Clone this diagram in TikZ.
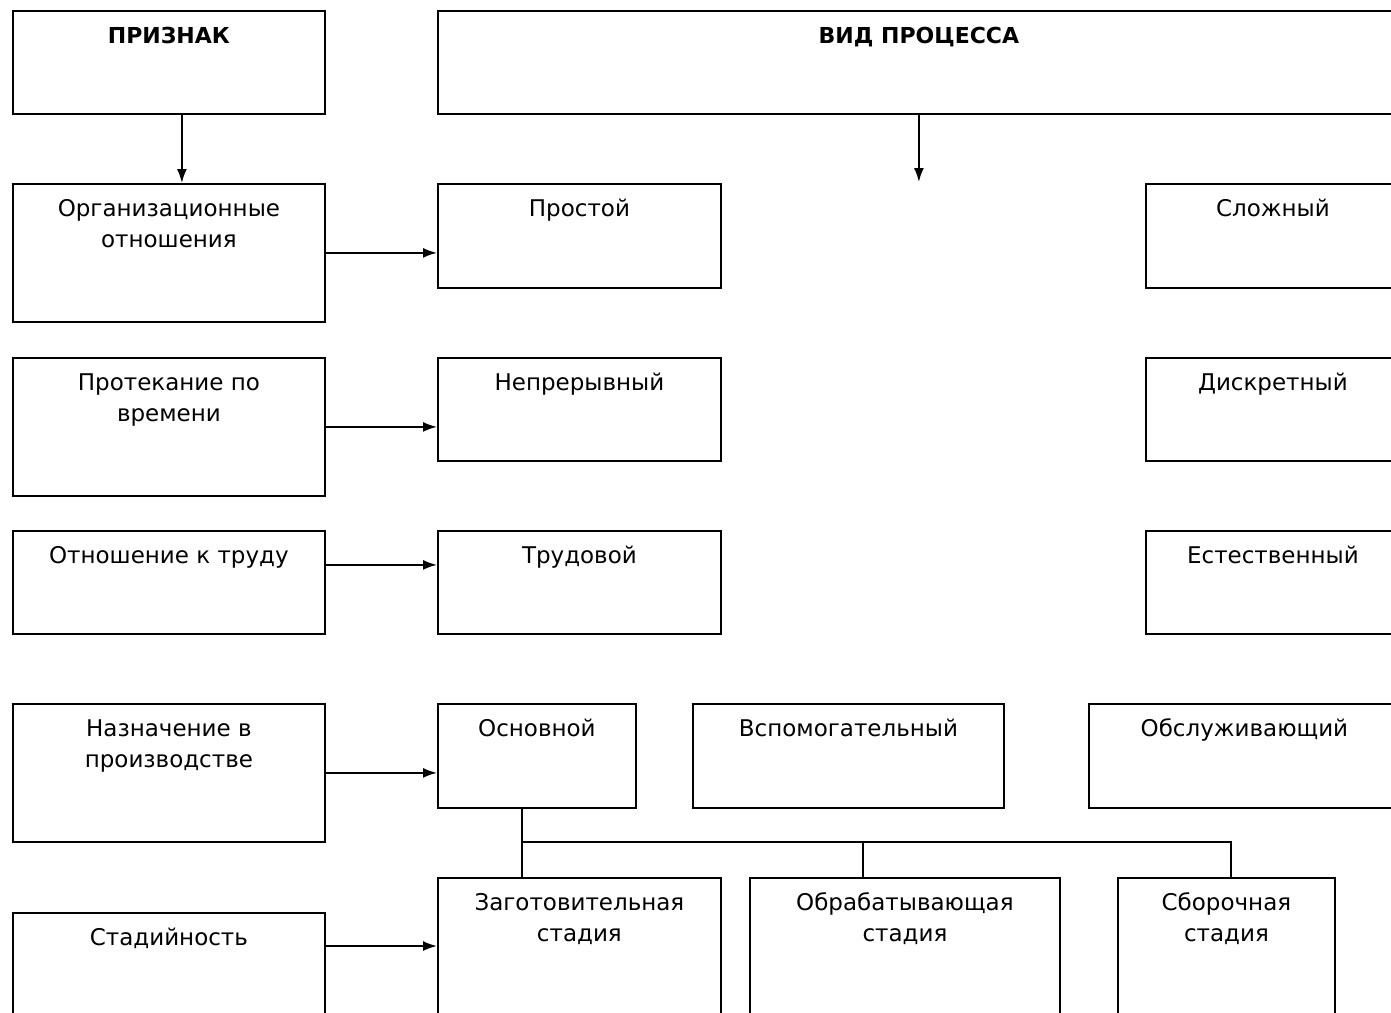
\documentclass[tikz,border=0pt]{standalone}
\usepackage{fontspec}
\setmainfont{DejaVu Sans}
\usepackage{tikz}
\usetikzlibrary{arrows.meta}

\tikzset{
	blk/.style 2 args={draw, line width=0.9pt, inner sep=0pt, anchor=north west, minimum width=#1*0.5pt, minimum height=#2*0.5pt},
	lbl/.style={anchor=north, inner sep=0pt, yshift=-5.65pt, align=center, font=\fontsize{11.5}{15.5}\selectfont},
	ln/.style={line width=0.9pt},
	pil/.style={line width=0.9pt, -{Latex[length=7pt,width=5pt]}}
}

\begin{document}
\begin{tikzpicture}[x=0.5pt, y=-0.5pt]
			\begin{scope}
				\useasboundingbox (0,0) rectangle (1391,1012);
				\clip (0,0) rectangle (1391,1012);

				% intestazione
				\node[blk={312}{103}, label={[lbl]north:\strut\fontsize{11}{15.5}\selectfont\textbf{ПРИЗНАК}}] (priznak) at (12,10) {};
				\node[blk={962}{103}, label={[lbl]north:\strut\fontsize{11}{15.5}\selectfont\textbf{ВИД ПРОЦЕССА}}] (vid) at (437,10) {};

				% colonna sinistra
				\node[blk={312}{138}, label={[lbl]north:\strut Организационные\\отношения}] (org) at (12,183) {};
				\node[blk={312}{138}, label={[lbl]north:\strut Протекание по\\времени}] (vrem) at (12,357) {};
				\node[blk={312}{103}, label={[lbl]north:\strut Отношение к труду}] (otn) at (12,530) {};
				\node[blk={312}{138}, label={[lbl]north:\strut Назначение в\\производстве}] (naznach) at (12,703) {};
				\node[blk={312}{150}, label={[lbl]north:\strut Стадийность}] (stad) at (12,912) {};

				% tipi
				\node[blk={283}{104}, label={[lbl]north:\strut Простой}] (prost) at (437,183) {};
				\node[blk={254}{104}, label={[lbl]north:\strut Сложный}] (slozh) at (1145,183) {};
				\node[blk={283}{103}, label={[lbl]north:\strut Непрерывный}] (nepr) at (437,357) {};
				\node[blk={254}{103}, label={[lbl]north:\strut Дискретный}] (diskr) at (1145,357) {};
				\node[blk={283}{103}, label={[lbl]north:\strut Трудовой}] (trudov) at (437,530) {};
				\node[blk={254}{103}, label={[lbl]north:\strut Естественный}] (estestv) at (1145,530) {};
				\node[blk={198}{104}, label={[lbl]north:\strut Основной}] (osn) at (437,703) {};
				\node[blk={311}{104}, label={[lbl]north:\strut Вспомогательный}] (vspom) at (692,703) {};
				\node[blk={311}{104}, label={[lbl]north:\strut Обслуживающий}] (obsl) at (1088,703) {};

				% stadi
				\node[blk={283}{180}, label={[lbl]north:\strut Заготовительная\\стадия}] (zagot) at (437,877) {};
				\node[blk={310}{180}, label={[lbl]north:\strut Обрабатывающая\\стадия}] (obrab) at (749,877) {};
				\node[blk={217}{180}, label={[lbl]north:\strut Сборочная\\стадия}] (sbor) at (1117,877) {};

				% frecce
				\coordinate (vidend) at (918,182);
				\draw[pil] ([xshift=6.5pt]priznak.south) -- ([xshift=6.5pt]org.north);
				\draw[pil] (vid.south) -- (vid.south |- vidend);
				\draw[pil] (org.east) -- (org.east -| prost.west);
				\draw[pil] (vrem.east) -- (vrem.east -| nepr.west);
				\draw[pil] ([yshift=8.75pt]otn.east) -- ([yshift=8.75pt]otn.east -| trudov.west);
				\draw[pil] (naznach.east) -- (naznach.east -| osn.west);
				\draw[pil] ([yshift=-17pt]stad.north east) -- ([yshift=-17pt]stad.north east -| zagot.west);

				% albero degli stadi
				\coordinate (uzel) at (522,842);
				\draw[ln] (uzel |- osn.south) -- (uzel |- zagot.north);
				\draw[ln] (uzel) -| ([xshift=-21pt]obrab.north);
				\draw[ln] (uzel) -| ([xshift=2.25pt]sbor.north);
			\end{scope}
\end{tikzpicture}
\end{document}
